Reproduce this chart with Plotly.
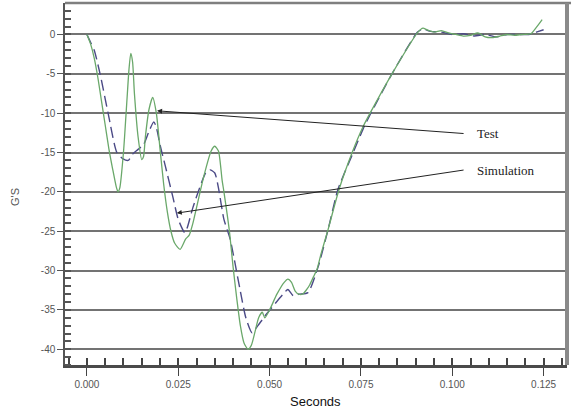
import plotly.graph_objects as go

# Measured deceleration pulse (test) and model prediction (simulation)
test_t = [0.000, 0.001, 0.002, 0.003, 0.004, 0.005, 0.006, 0.007, 0.008, 0.0085,
          0.009, 0.010, 0.011, 0.0115, 0.012, 0.0125, 0.013, 0.014, 0.015, 0.0155,
          0.016, 0.017, 0.018, 0.019, 0.020, 0.021, 0.022, 0.023, 0.024, 0.0255,
          0.027, 0.028, 0.029, 0.030, 0.032, 0.034, 0.035, 0.036, 0.037, 0.0375,
          0.039, 0.040, 0.041, 0.042, 0.043, 0.0441, 0.045, 0.046, 0.047, 0.048,
          0.0487, 0.050, 0.052, 0.054, 0.055, 0.056, 0.057, 0.058, 0.059, 0.060,
          0.061, 0.062, 0.063, 0.064, 0.066, 0.069, 0.0726, 0.0756, 0.0775, 0.0835,
          0.0906, 0.092, 0.093, 0.095, 0.097, 0.099, 0.101, 0.103, 0.105, 0.107,
          0.109, 0.111, 0.113, 0.115, 0.117, 0.119, 0.1215, 0.123, 0.1246]
test_g = [0.0, -1.2, -3.0, -5.5, -8.5, -11.5, -14.5, -17.0, -19.3, -20.0,
          -19.5, -15.0, -8.0, -4.5, -2.4, -3.5, -7.5, -13.0, -15.9, -15.5,
          -13.0, -9.5, -8.0, -10.0, -14.5, -19.0, -22.5, -25.0, -26.5, -27.3,
          -26.0, -25.5, -24.0, -22.0, -18.0, -14.8, -14.2, -14.8, -18.5, -20.0,
          -25.0, -29.5, -33.5, -37.0, -39.2, -40.0, -39.5, -37.8, -36.0, -35.3,
          -36.0, -35.0, -33.0, -31.5, -31.1, -31.5, -32.6, -33.0, -33.0, -32.5,
          -31.8, -30.8, -29.8, -28.0, -24.8, -19.7, -15.0, -11.7, -10.0, -5.0,
          0.3, 0.8, 0.6, 0.3, 0.5, 0.2, 0.0, -0.2, -0.1, 0.2,
          -0.3, -0.4, -0.2, 0.0, -0.1, 0.0, 0.1, 0.9, 1.9]

sim_t = [0.000, 0.001, 0.002, 0.0036, 0.0058, 0.0082, 0.0099, 0.0113, 0.0125, 0.014,
         0.0155, 0.017, 0.0183, 0.019, 0.020, 0.0215, 0.0235, 0.025, 0.0268, 0.0275,
         0.029, 0.031, 0.0325, 0.0337, 0.035, 0.036, 0.0375, 0.0392, 0.0419, 0.0435,
         0.0452, 0.0468, 0.0487, 0.0537, 0.055, 0.0565, 0.058, 0.0605, 0.0633, 0.066,
         0.0687, 0.0726, 0.0756, 0.0775, 0.0835, 0.0905, 0.092, 0.094, 0.097, 0.100,
         0.103, 0.106, 0.109, 0.112, 0.115, 0.118, 0.121, 0.123, 0.125]
sim_g = [0.0, -1.0, -2.0, -5.0, -10.0, -15.0, -15.8, -16.0, -15.2, -14.6,
         -14.0, -12.3, -11.1, -11.8, -14.0, -16.8, -20.6, -23.5, -25.2, -24.5,
         -22.0, -19.3, -17.6, -17.2, -17.6, -19.5, -23.5, -26.0, -32.4, -36.0,
         -37.9, -37.0, -35.8, -33.0, -32.4, -33.2, -33.0, -32.8, -29.5, -24.8,
         -19.7, -15.3, -12.0, -10.2, -5.0, 0.3, 0.7, 0.4, 0.3, 0.0,
         0.1, -0.2, 0.0, -0.3, 0.0, 0.0, 0.0, 0.3, 0.6]

y_tick_vals = [0, -5, -10, -15, -20, -25, -30, -35, -40]
y_tick_text = ["0", "-5", "-10", "-15", "-20", "-25", "-30", "-35", "-40"]
x_tick_vals = [0.0, 0.025, 0.05, 0.075, 0.1, 0.125]
x_tick_text = ["0.000", "0.025", "0.050", "0.075", "0.100", "0.125"]

X_RANGE = [-0.006, 0.1314]
Y_RANGE = [-42, 4]

fig = go.Figure()
fig.add_trace(go.Scatter(
    x=sim_t, y=sim_g, mode="lines", name="Simulation",
    line=dict(color="#4b4a86", width=1.4, dash="11px,5px", shape="spline", smoothing=0.6),
))
fig.add_trace(go.Scatter(
    x=test_t, y=test_g, mode="lines", name="Test",
    line=dict(color="#6aa86a", width=1.3, shape="spline", smoothing=0.6),
))

tick_font = dict(family="Liberation Sans, Arial, sans-serif", size=10, color="#555555")

fig.update_layout(
    width=575, height=412, autosize=False,
    margin=dict(l=65, r=8, t=3, b=47),
    paper_bgcolor="white", plot_bgcolor="white",
    showlegend=False,
    xaxis=dict(
        range=X_RANGE, showgrid=False, zeroline=False,
        tickmode="array", tickvals=x_tick_vals, ticktext=x_tick_text,
        ticks="outside", ticklen=8, tickwidth=1.3, tickcolor="#444444",
        tickfont=tick_font,
        showline=True, linecolor="#4a4a4a", linewidth=3,
        minor=dict(ticks="inside", dtick=0.005, ticklen=7, tickwidth=1.5,
                   tickcolor="#444444"),
    ),
    yaxis=dict(
        range=Y_RANGE, zeroline=False,
        tickmode="array", tickvals=y_tick_vals, ticktext=y_tick_text,
        ticks="outside", ticklen=6, tickwidth=1.3, tickcolor="#555555",
        tickfont=tick_font,
        showgrid=True, gridcolor="#737373", gridwidth=2,
        showline=True, linecolor="#555555", linewidth=1.5,
        minor=dict(ticks="inside", dtick=1, ticklen=6, tickwidth=1.5,
                   tickcolor="#555555"),
    ),
    shapes=[
        dict(type="line", xref="paper", yref="paper", x0=0, x1=1.008, y0=1, y1=1,
             line=dict(color="#7f7f7f", width=2.5)),
        dict(type="line", xref="paper", yref="paper", x0=1, x1=1, y0=0, y1=1,
             line=dict(color="#8a8a8a", width=4)),
    ],
)

# Pointer arrows and their serif labels
arrow_style = dict(showarrow=True, arrowhead=2, arrowsize=1, arrowwidth=1,
                   arrowcolor="#222222", axref="x", ayref="y", text="")
fig.add_annotation(x=0.0192, y=-9.7, ax=0.1035, ay=-12.6, **arrow_style)
fig.add_annotation(x=0.0246, y=-22.7, ax=0.1035, ay=-17.2, **arrow_style)

label_font = dict(family="Liberation Serif, Times New Roman, serif", size=13, color="#222222")
fig.add_annotation(x=0.1062, y=-12.6, text="Test", showarrow=False,
                   xanchor="left", yanchor="middle", font=label_font)
fig.add_annotation(x=0.1062, y=-17.3, text="Simulation", showarrow=False,
                   xanchor="left", yanchor="middle", font=label_font)

# Axis titles, placed by pixel position within the figure
plot_w = 575 - 65 - 8
plot_h = 412 - 3 - 47
title_font = "Liberation Sans, Arial, sans-serif"
fig.add_annotation(x=(315 - 65) / plot_w, y=(412 - 47 - 402) / plot_h,
                   xref="paper", yref="paper", text="Seconds", showarrow=False,
                   xanchor="center", yanchor="middle",
                   font=dict(family=title_font, size=13, color="#111111"))
fig.add_annotation(x=(15 - 65) / plot_w, y=(412 - 47 - 197) / plot_h,
                   xref="paper", yref="paper", text="G'S", textangle=-90, showarrow=False,
                   xanchor="center", yanchor="middle",
                   font=dict(family=title_font, size=11, color="#555555"))

fig.write_html("out.html")
